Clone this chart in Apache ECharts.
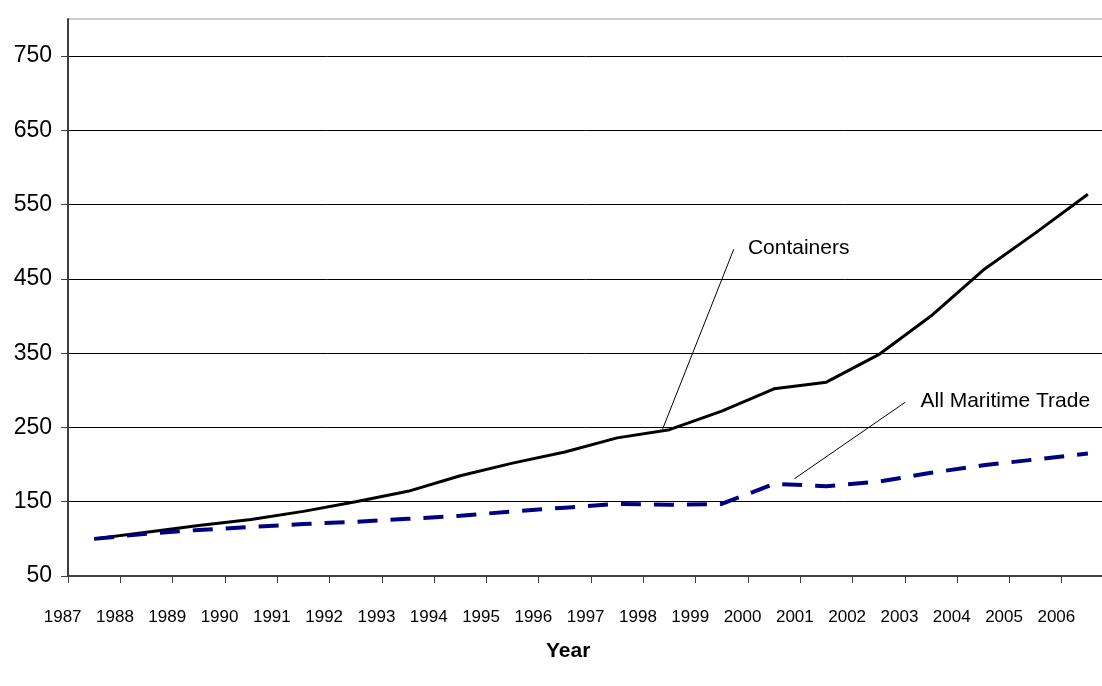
<!DOCTYPE html>
<html>
<head>
<meta charset="utf-8">
<title>Containers vs All Maritime Trade</title>
<script src="https://cdn.jsdelivr.net/npm/echarts@6/dist/echarts.min.js"></script>
<style>
  html, body {
    margin: 0;
    padding: 0;
    background: #fff;
  }

  #chart {
    width: 1102px;
    height: 686px;
  }
</style>
</head>
<body>
<div id="chart"></div>
<script>
// index, 1987 = 100
const years = ['1987', '1988', '1989', '1990', '1991', '1992', '1993', '1994', '1995', '1996',
  '1997', '1998', '1999', '2000', '2001', '2002', '2003', '2004', '2005', '2006']
const containers = [100, 109, 118, 126, 137, 150, 164, 185, 202, 217,
  236, 247, 272, 302, 311, 348, 400, 462, 512, 564]
const maritime = [100, 107, 112, 116, 120, 123, 127, 131, 137, 142,
  147, 146, 147, 174, 171, 177, 189, 199, 207, 215]
const yTicks = [50, 150, 250, 350, 450, 550, 650, 750]

const FONT = 'Liberation Sans, Arial, sans-serif'
const AXIS_COLOR = '#404040'

const chart = echarts.init(document.getElementById('chart'))

chart.setOption({
  animation: false,
  backgroundColor: '#fff',
  title: {
    text: 'Year',
    left: 541,
    top: 636,
    textStyle: {
      fontFamily: FONT,
      fontSize: 21,
      fontWeight: 'bold',
      color: '#000'
    }
  },
  grid: {
    // the plot runs past the right edge of the picture
    left: 68,
    right: -12,
    top: 19,
    bottom: 110,
    outerBoundsMode: 'none',
    containLabel: false,
    show: true,
    borderColor: '#999',
    borderWidth: 1
  },
  xAxis: {
    type: 'category',
    data: years,
    boundaryGap: true,
    axisLine: {
      lineStyle: { color: AXIS_COLOR, width: 2 }
    },
    axisTick: {
      show: true,
      length: 7,
      interval: 0,
      lineStyle: { color: AXIS_COLOR }
    },
    axisLabel: {
      interval: 0,
      margin: 33,
      // labels sit on the tick marks, not in the middle of the band
      padding: [0, 63, 0, 0],
      fontFamily: FONT,
      fontSize: 17,
      color: '#000'
    },
    splitLine: { show: false }
  },
  yAxis: {
    type: 'value',
    min: 50,
    max: 800,
    axisLine: {
      show: true,
      lineStyle: { color: AXIS_COLOR, width: 2 }
    },
    axisTick: {
      show: true,
      length: 7,
      customValues: yTicks,
      lineStyle: { color: AXIS_COLOR }
    },
    axisLabel: {
      customValues: yTicks,
      margin: 16,
      fontFamily: FONT,
      fontSize: 23,
      color: '#000'
    },
    splitLine: {
      show: true,
      lineStyle: { color: '#000', width: 1 }
    }
  },
  series: [
    {
      name: 'Containers',
      type: 'line',
      data: containers,
      showSymbol: false,
      lineStyle: { color: '#000', width: 3 },
      z: 3
    },
    {
      name: 'All Maritime Trade',
      type: 'line',
      data: maritime,
      showSymbol: false,
      lineStyle: { color: '#000080', width: 4, type: [20, 13], cap: 'butt' },
      z: 4
    }
  ]
})

// annotation anchors in data space (fractional category index, value)
function toPixel(idx, val) {
  const a = chart.convertToPixel({ gridIndex: 0 }, [0, val])
  const b = chart.convertToPixel({ gridIndex: 0 }, [1, val])
  return [a[0] + (b[0] - a[0]) * idx, a[1]]
}

const notes = [
  { text: 'Containers', from: [12.23, 490], to: [10.87, 248], label: [12.5, 492] },
  { text: 'All Maritime Trade', from: [15.51, 284], to: [13.39, 181], label: [15.8, 286] }
]

const graphics = []
notes.forEach(n => {
  const p1 = toPixel(n.from[0], n.from[1])
  const p2 = toPixel(n.to[0], n.to[1])
  const pl = toPixel(n.label[0], n.label[1])
  graphics.push({
    type: 'line',
    shape: { x1: p1[0], y1: p1[1], x2: p2[0], y2: p2[1] },
    style: { stroke: '#000', lineWidth: 1 },
    z: 10
  })
  graphics.push({
    type: 'text',
    x: pl[0],
    y: pl[1],
    style: {
      text: n.text,
      fontFamily: FONT,
      fontSize: 21,
      fill: '#000',
      verticalAlign: 'middle'
    },
    z: 10
  })
})
chart.setOption({ graphic: graphics })
</script>
</body>
</html>
